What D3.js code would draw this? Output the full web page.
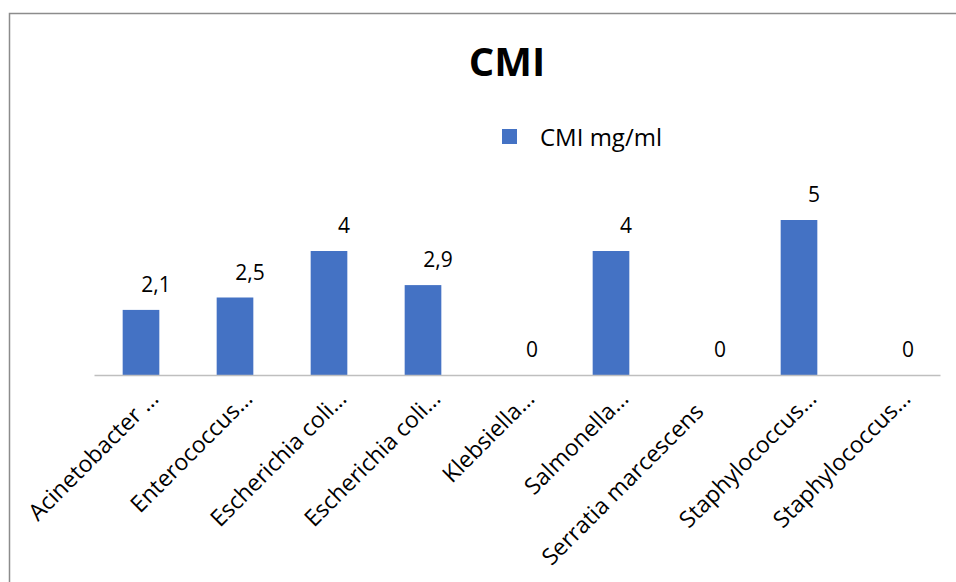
<!DOCTYPE html>
<html>
<head>
<meta charset="utf-8">
<script src="https://cdn.jsdelivr.net/npm/d3@7"></script>
<style>
  html, body { margin: 0; padding: 0; background: #ffffff; }
  svg { display: block; font-family: "Open Sans", "Noto Sans", sans-serif; }
</style>
</head>
<body>
<svg id="chart" width="956" height="582"></svg>
<script>
// Minimum inhibitory concentration per strain
const categories = [
  "Acinetobacter …",
  "Enterococcus…",
  "Escherichia coli…",
  "Escherichia coli…",
  "Klebsiella…",
  "Salmonella…",
  "Serratia marcescens",
  "Staphylococcus…",
  "Staphylococcus…"
];
const values = [2.1, 2.5, 4, 2.9, 0, 4, 0, 5, 0];
const seriesName = "CMI mg/ml";
const chartTitle = "CMI";

const svg = d3.select("#chart");
const W = 956, H = 582;
const BAR = "#4472C4";

// Outer chart frame (only top and left edges fall inside the view)
svg.append("rect")
  .attr("x", 9.5).attr("y", 13.5)
  .attr("width", W + 20).attr("height", H + 20)
  .attr("fill", "none")
  .attr("stroke", "#8c8c8c")
  .attr("stroke-width", 1.5);

const x = d3.scaleBand()
  .domain(d3.range(categories.length))
  .range([94, 940])
  .paddingInner(0.61)
  .paddingOuter(0.305);

const y = d3.scaleLinear().domain([0, 6]).range([375, 189]);

// Title
svg.append("text")
  .attr("x", 507).attr("y", 76)
  .attr("text-anchor", "middle")
  .attr("font-size", 40)
  .attr("font-weight", 700)
  .attr("fill", "#000")
  .text(chartTitle);

// Legend
const legend = svg.append("g");
legend.append("rect")
  .attr("x", 502).attr("y", 129)
  .attr("width", 15).attr("height", 15)
  .attr("fill", BAR);
legend.append("text")
  .attr("x", 540).attr("y", 146)
  .attr("font-size", 24)
  .attr("fill", "#000")
  .text(seriesName);

// Bars
svg.append("g")
  .selectAll("rect")
  .data(values)
  .join("rect")
  .attr("x", (d, i) => x(i))
  .attr("y", d => y(d))
  .attr("width", x.bandwidth())
  .attr("height", d => y(0) - y(d))
  .attr("fill", BAR);

// Category axis
const axis = svg.append("g")
  .attr("transform", `translate(0,${y(0)})`)
  .call(d3.axisBottom(x).tickSize(0).tickFormat(i => categories[i]));
axis.select(".domain")
  .attr("stroke", "#bfbfbf")
  .attr("stroke-width", 1.5);
axis.selectAll(".tick text")
  .attr("font-size", 23)
  .attr("font-family", "'Open Sans', 'Noto Sans', sans-serif")
  .attr("fill", "#000")
  .attr("text-anchor", "end")
  .attr("dy", 0)
  .attr("y", 0)
  .attr("transform", (i) => {
    const full = !categories[i].endsWith("…");
    const dx = full ? 0 : 19;
    const dy = full ? 38 : 25;
    return `translate(${dx},${dy}) rotate(-45)`;
  });

// Value labels
svg.append("g")
  .selectAll("text")
  .data(values)
  .join("text")
  .attr("x", (d, i) => x(i) + x.bandwidth() / 2 + 15)
  .attr("y", d => y(d) - 18)
  .attr("text-anchor", "middle")
  .attr("font-size", 21)
  .attr("fill", "#000")
  .text(d => String(d).replace(".", ","));
</script>
</body>
</html>
